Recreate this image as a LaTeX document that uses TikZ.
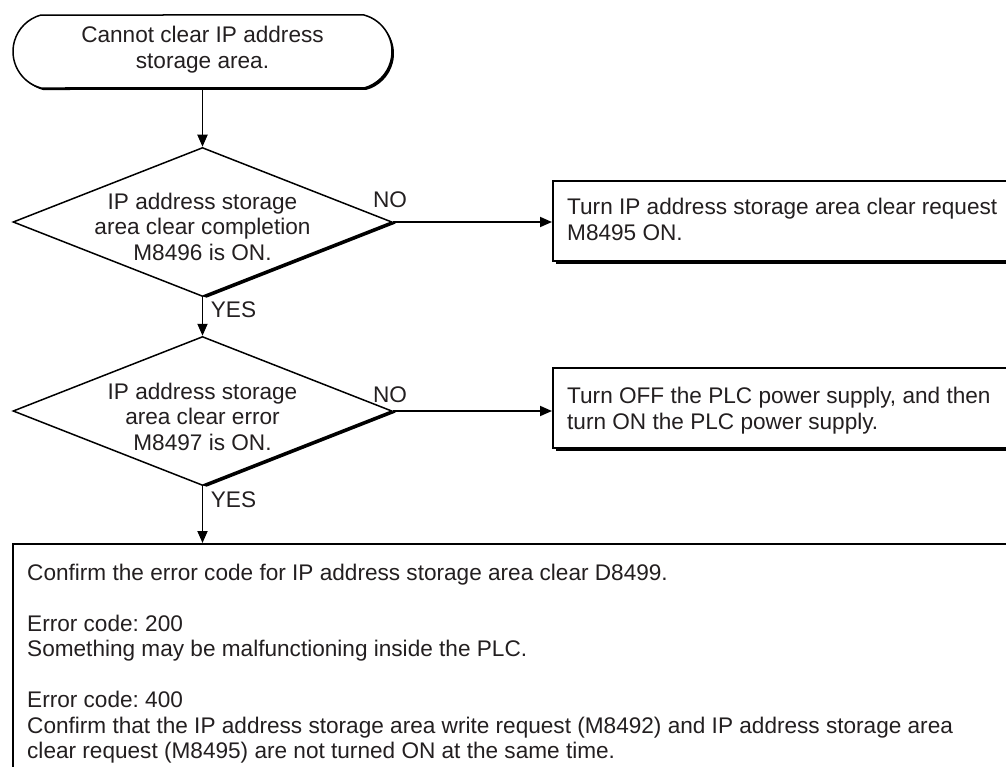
\documentclass[tikz,border=0pt]{standalone}
\usepackage{fontspec}
\setmainfont{Liberation Sans}
\usetikzlibrary{shapes.geometric,shapes.misc,shadows,arrows.meta}
\definecolor{ink}{RGB}{35,31,32}
\frenchspacing
\begin{document}
\begin{tikzpicture}[x=1bp,y=-1bp,
  txt/.style={font=\fontsize{22.6bp}{25.5bp}\selectfont, text=ink, inner sep=0pt},
  conn/.style={draw=black, line width=1.8bp, -{Triangle[length=12bp,width=10bp]}},
  outl/.style={draw=black, line width=1.5bp, fill=white},
  termbox/.style={outl, rounded rectangle, rounded rectangle arc length=150,
    minimum width=379bp, minimum height=73bp, inner sep=0pt,
    drop shadow={shadow xshift=2bp, shadow yshift=-2bp, opacity=1, fill=black}},
  decbox/.style={outl, diamond, minimum width=379bp, minimum height=149bp, inner sep=0pt,
    drop shadow={shadow xshift=4bp, shadow yshift=-1.5bp, opacity=1, fill=black}},
  actbox/.style={outl, rectangle, anchor=north west, minimum width=520bp, minimum height=80bp, inner sep=0pt,
    drop shadow={shadow xshift=3bp, shadow yshift=-3.5bp, opacity=1, fill=black}},
  infobox/.style={outl, rectangle, anchor=north west, minimum width=1100bp, minimum height=300bp, inner sep=0pt}
]
\useasboundingbox (0,0) rectangle (1006,767);
\fill[white] (0,0) rectangle (1006,767);
\clip (0,0) rectangle (1006,767);

% shapes
\node[termbox] (start) at (202.5,51.5) {};
\node[decbox] (d1) at (202.5,222) {};
\node[decbox] (d2) at (202.5,411) {};
\node[actbox] (b1) at (552,180) {};
\node[actbox] (b2) at (552,367) {};
\node[infobox] (eb) at (12,543) {};

% texts
\node[txt, align=center, anchor=north] (startt) at (202.5,26) {Cannot clear IP address\\storage area.};
\node[txt, align=center, anchor=north] (d1t) at (202.5,192.5) {IP address storage\\area clear completion\\M8496 is ON.};
\node[txt, align=center, anchor=north] (d2t) at (202.5,382.5) {IP address storage\\area clear error\\M8497 is ON.};
\node[txt, align=left, anchor=north west] (b1t) at (567,198) {Turn IP address storage area clear request\\M8495 ON.};
\node[txt, align=left, anchor=north west] (b2t) at (567,387) {Turn OFF the PLC power supply, and then\\turn ON the PLC power supply.};
\node[txt, align=left, anchor=north west] (ebt) at (27,563.5) {Confirm the error code for IP address storage area clear D8499.\\[25.5bp]
Error code: 200\\Something may be malfunctioning inside the PLC.\\[25.5bp]
Error code: 400\\Confirm that the IP address storage area write request (M8492) and IP address storage area\\clear request (M8495) are not turned ON at the same time.};

% labels
\node[txt] (no1) at (390,200) {NO};
\node[txt] (no2) at (390,394.5) {NO};
\node[txt] (yes1) at (233.5,310) {YES};
\node[txt] (yes2) at (233.5,499.5) {YES};

% connectors
\draw[conn] (start.south) -- (d1.north);
\draw[conn] (d1.east) -- (d1.east -| b1.west);
\draw[conn] (d1.south) -- (d2.north);
\draw[conn] (d2.east) -- (d2.east -| b2.west);
\draw[conn] (d2.south) -- (d2.south |- eb.north);
\end{tikzpicture}
\end{document}
